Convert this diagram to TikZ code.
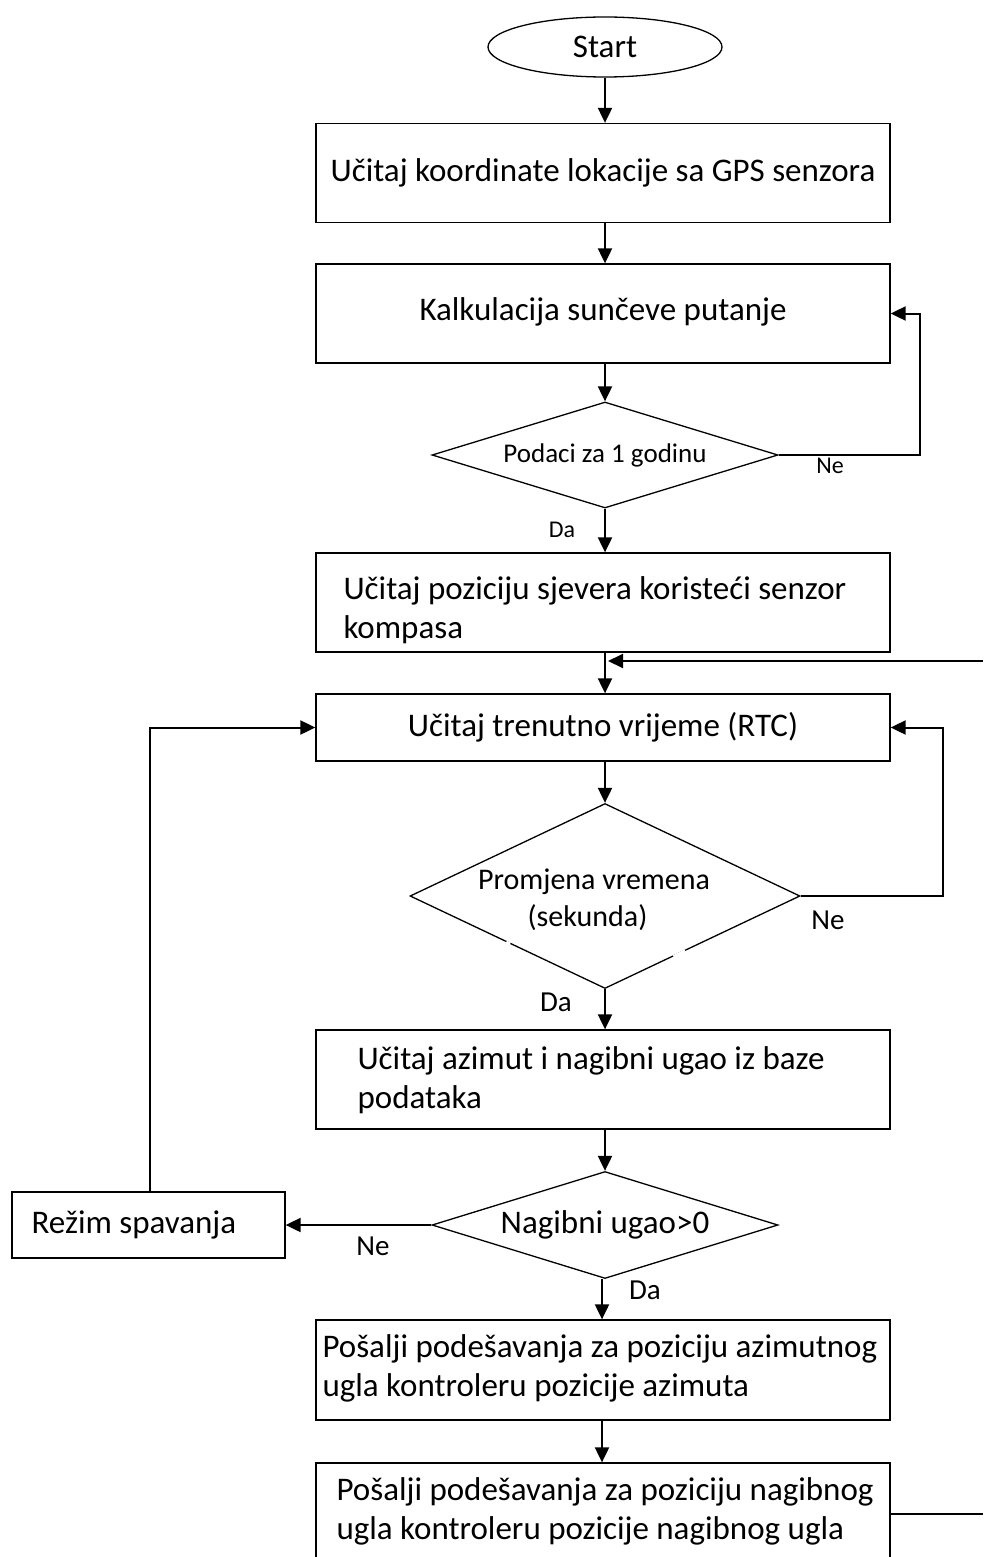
\documentclass[tikz,border=0pt]{standalone}
\usepackage{fontspec}
\setmainfont{Carlito}
\usetikzlibrary{shapes.geometric,arrows.meta,calc}
\newcommand{\bfnt}{\fontsize{33}{39}\selectfont}
\begin{document}
\begin{tikzpicture}[x=1pt,y=-1pt,
  box/.style={draw, line width=1.3pt, minimum width=574pt, minimum height=99pt, inner sep=0pt, font=\bfnt},
  txt/.style={anchor=west, align=flush left, font=\bfnt, inner sep=0pt},
  dec/.style={draw, diamond, line width=1.3pt, inner sep=0pt},
  arr/.style={line width=2pt, -{Triangle[length=15pt,width=14pt]}},
  ln/.style={line width=1.6pt},
  lbl/.style={font=\fontsize{29}{30}\selectfont, inner sep=0pt},
  slbl/.style={font=\fontsize{24}{26}\selectfont, inner sep=0pt}]
\useasboundingbox (0,0) rectangle (983,1557);
\clip (0,0) rectangle (983,1557);
\fill[white] (0,0) rectangle (983,1557);

\node[draw, ellipse, line width=1.3pt, minimum width=234pt, minimum height=60pt, inner sep=0pt, font=\bfnt] (st) at (605,47) {Start};
\node[box, label={[txt, anchor=center, inner sep=0pt]center:{Učitaj koordinate lokacije sa GPS senzora}}] (b1) at (603,173) {};
\node[box, label={[txt, anchor=center, yshift=2pt]center:{Kalkulacija sunčeve putanje}}] (b2) at (603,313.5) {};
\node[dec, minimum width=346pt, minimum height=106pt,
  label={[font=\fontsize{27}{30}\selectfont, inner sep=0pt]center:Podaci za 1 godinu}] (d1) at (605,455) {};
\node[box, label={[txt, xshift=28pt, yshift=-8pt]west:{Učitaj poziciju sjevera koristeći senzor\\kompasa}}] (b3) at (603,602.5) {};
\node[box, minimum height=67pt] (b4) at (603,727.5) {Učitaj trenutno vrijeme (RTC)};
\node[dec, minimum width=390pt, minimum height=185pt] (d2) at (605,896) {};
\node[font=\fontsize{30}{37}\selectfont, align=center, inner sep=0pt] (d2t) at (594,900) {Promjena vremena\\\hspace*{-13pt}(sekunda)};
\node[box, label={[txt, xshift=42pt, yshift=-1pt]west:{Učitaj azimut i nagibni ugao iz baze\\podataka}}] (b5) at (603,1079.5) {};
\node[dec, minimum width=346pt, minimum height=107pt,
  label={[font=\bfnt, inner sep=0pt]center:Nagibni ugao>0}] (d3) at (605,1225) {};
\node[box, minimum width=273pt, minimum height=66pt, label={[txt, xshift=20pt]west:Režim spavanja}] (b6) at (148.5,1225) {};
\node[box, minimum height=100pt, label={[txt, xshift=7pt, yshift=2pt]west:{Pošalji podešavanja za poziciju azimutnog\\ugla kontroleru pozicije azimuta}}] (b7) at (603,1370) {};
\node[box, minimum height=100pt, label={[txt, xshift=21pt, yshift=2pt]west:{Pošalji podešavanja za poziciju nagibnog\\ugla kontroleru pozicije nagibnog ugla}}] (b8) at (603,1513) {};

% gaps in the second diamond
\draw[white, line width=3pt] ($(d2.west)!0.495!(d2.south)$) -- ($(d2.west)!0.515!(d2.south)$);
\draw[white, line width=3pt] ($(d2.south)!0.35!(d2.east)$) -- ($(d2.south)!0.41!(d2.east)$);

% main flow
\draw[arr] (st.south) -- (st.south |- b1.north);
\draw[arr] (b1.south -| st.south) -- (st.south |- b2.north);
\draw[arr] (b2.south -| d1.north) -- (d1.north);
\draw[arr] (d1.south) -- (d1.south |- b3.north);
\draw[arr] (b3.south -| d1.south) -- (d1.south |- b4.north);
\draw[arr] (b4.south -| d2.north) -- (d2.north);
\draw[arr] (d2.south) -- (d2.south |- b5.north);
\draw[arr] (b5.south -| d3.north) -- (d3.north);
\coordinate (c7) at (602,0);
\draw[arr] (d3.south -| c7) -- (c7 |- b7.north);
\draw[arr] (b7.south -| c7) -- (c7 |- b8.north);

% loops
\coordinate (r1) at (920,0);
\draw[arr] (d1.east) -- (d1.east -| r1) -- (r1 |- b2.east) -- (b2.east);
\node[slbl] (ne1) at (830,466) {Ne};
\node[slbl] (da1) at (562,530) {Da};

\coordinate (edgeR) at (983,661);
\coordinate (jn) at (608,661);
\draw[arr] (edgeR) -- (jn);

\coordinate (r2) at (943,0);
\draw[arr] (d2.east) -- (d2.east -| r2) -- (r2 |- b4.east) -- (b4.east);
\node[lbl] (ne2) at (828,920) {Ne};
\node[lbl] (da2) at (556,1002) {Da};

\draw[arr] (d3.west) -- (b6.east);
\node[lbl] (ne3) at (373,1246) {Ne};
\node[lbl] (da3) at (645,1290) {Da};

\coordinate (l1) at (150,0);
\draw[arr] (l1 |- b6.north) -- (l1 |- b4.west) -- (b4.west);

\coordinate (outR) at (983,1514);
\draw[ln] (b8.east |- outR) -- (outR);
\end{tikzpicture}
\end{document}
